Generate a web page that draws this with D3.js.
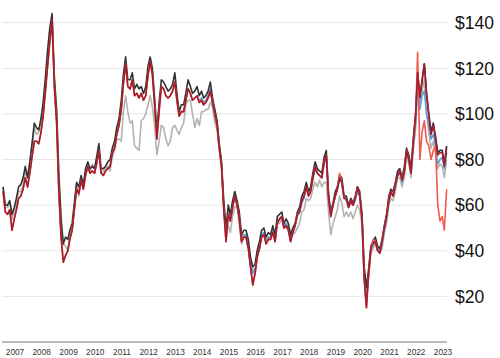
<!DOCTYPE html>
<html>
<head>
<meta charset="utf-8">
<script src="https://cdn.jsdelivr.net/npm/d3@7"></script>
<style>
  body { margin: 0; background: #fff; }
  svg { display: block; font-family: "Liberation Sans", Arial, Helvetica, sans-serif; }
</style>
</head>
<body>
<div id="chart"></div>
<script>
// Monthly prices (mid-month points), $ per barrel
const mainStart = "2006-09";
const blueStart = "2014-01";

const blackValues = [
  68, 60, 60, 62,
  56, 59, 63, 68, 69, 72, 77, 72, 79, 87, 96, 94,
  93, 98, 105, 116, 128, 138, 144, 116, 101, 73, 53, 43,
  46, 45, 49, 52, 61, 70, 68, 73, 69, 76, 79, 76,
  77, 76, 81, 87, 76, 76, 77, 79, 80, 85, 88, 94,
  98, 106, 117, 125, 115, 115, 118, 111, 113, 111, 112, 109,
  112, 121, 125, 120, 107, 92, 105, 115, 114, 112, 110, 111,
  113, 118, 109, 101, 104, 104, 109, 115, 112, 109, 110, 112,
  108, 110, 107, 108, 110, 114, 107, 102, 97, 87, 79, 62,
  50, 60, 56, 62, 66, 62, 57, 47, 49, 49, 45, 37,
  33, 34, 40, 44, 49, 50, 46, 48, 47, 51, 47, 55,
  56, 57, 52, 54, 52, 47, 50, 52, 57, 59, 64, 66,
  70, 66, 68, 74, 79, 76, 75, 74, 81, 84, 65, 57,
  61, 66, 68, 73, 72, 64, 64, 60, 63, 61, 64, 68,
  66, 56, 33, 24, 32, 42, 44, 46, 42, 41, 45, 51,
  56, 64, 67, 66, 70, 75, 76, 72, 77, 85, 82, 76,
  89, 100, 118, 107, 115, 122, 109, 100, 92, 96, 90, 83,
  84, 84, 78, 86
];

const redValues = [
  66, 57, 56, 58,
  49, 54, 58, 63, 64, 67, 72, 68, 74, 81, 88, 88,
  87, 92, 99, 110, 121, 132, 141, 112, 96, 66, 46, 35,
  38, 40, 45, 49, 58, 67, 65, 71, 67, 73, 77, 74,
  75, 74, 78, 84, 74, 73, 75, 76, 77, 83, 85, 91,
  95, 102, 113, 122, 112, 111, 115, 108, 109, 107, 109, 106,
  108, 117, 123, 117, 104, 89, 101, 112, 111, 108, 107, 108,
  110, 114, 106, 99, 101, 101, 106, 111, 109, 106, 107, 108,
  105, 106, 104, 105, 107, 110, 105, 100, 95, 85, 77, 58,
  44, 56, 53, 59, 64, 60, 54, 44, 46, 46, 41, 33,
  25, 30, 37, 41, 46, 47, 43, 45, 45, 48, 44, 52,
  54, 55, 50, 51, 49, 44, 48, 51, 56, 57, 62, 64,
  68, 64, 66, 72, 77, 74, 73, 72, 79, 82, 63, 55,
  60, 64, 67, 72, 70, 63, 63, 59, 62, 60, 63, 68,
  64, 54, 28, 15, 30, 41, 43, 44, 40, 39, 44, 50,
  55, 62, 66, 64, 69, 73, 75, 71, 75, 84, 80, 74,
  88, 99, 118, 108, 114, 122, 109, 99, 91, 95, 89, 82,
  83, 83, 77, 85
];

const grayValues = [
  68, 59, 59, 61,
  54, 58, 61, 66, 66, 69, 75, 72, 78, 85, 94, 91,
  92, 97, 104, 114, 126, 137, 140, 116, 103, 75, 56, 43,
  42, 40, 48, 50, 59, 69, 64, 71, 69, 75, 78, 74,
  78, 76, 81, 84, 74, 75, 76, 77, 75, 81, 84, 89,
  89, 88, 101, 108, 101, 96, 97, 86, 85, 84, 97, 98,
  100, 104, 108, 103, 95, 82, 88, 95, 94, 89, 86, 88,
  94, 95, 93, 91, 94, 96, 104, 106, 106, 100, 94, 98,
  95, 101, 101, 102, 102, 105, 103, 96, 93, 84, 76, 59,
  47, 51, 48, 55, 59, 60, 51, 43, 46, 46, 42, 37,
  32, 31, 38, 41, 47, 48, 45, 45, 45, 49, 46, 52,
  52, 54, 50, 51, 49, 45, 47, 48, 50, 52, 57, 58,
  63, 62, 63, 67, 70, 68, 71, 68, 70, 70, 57, 47,
  52, 55, 58, 64, 61, 55, 57, 55, 57, 54, 57, 60,
  58, 51, 30, 19, 29, 39, 41, 43, 40, 39, 41, 48,
  52, 60, 63, 62, 66, 72, 72, 68, 72, 82, 78, 72,
  84, 93, 110, 103, 110, 115, 100, 92, 85, 88, 83, 76,
  78, 77, 72, 80
];

const coralValues = [
  66, 57, 56, 58,
  49, 54, 58, 63, 64, 67, 72, 68, 74, 81, 88, 88,
  87, 92, 99, 110, 121, 132, 141, 112, 96, 66, 46, 35,
  38, 40, 45, 49, 58, 67, 65, 71, 67, 73, 77, 74,
  75, 74, 78, 84, 74, 73, 75, 76, 77, 83, 85, 91,
  95, 102, 113, 122, 112, 111, 115, 108, 109, 107, 109, 106,
  108, 117, 123, 117, 104, 89, 101, 112, 111, 108, 107, 108,
  110, 114, 106, 99, 101, 101, 106, 111, 109, 106, 107, 108,
  105, 106, 104, 105, 107, 110, 105, 100, 95, 85, 77, 58,
  44, 56, 53, 59, 64, 60, 54, 44, 46, 46, 41, 33,
  25, 30, 37, 41, 46, 47, 43, 45, 45, 48, 44, 52,
  54, 55, 50, 51, 49, 44, 48, 51, 56, 57, 62, 64,
  68, 64, 66, 72, 77, 74, 73, 72, 79, 82, 63, 55,
  60, 64, 67, 74, 70, 63, 63, 59, 62, 60, 63, 68,
  64, 54, 28, 15, 30, 41, 45, 44, 40, 39, 44, 50,
  55, 62, 66, 64, 69, 73, 75, 71, 75, 84, 80, 74,
  88, 97, 127, 80, 92, 97, 88, 86, 80, 84, 86, 60,
  53, 55, 49, 67
];

const blueValues = [
  106, 107, 105, 106, 108, 111, 105, 100, 95, 86, 77, 60,
  47, 57, 54, 59, 64, 61, 55, 46, 47, 47, 43, 35,
  30, 32, 38, 42, 47, 48, 44, 46, 46, 49, 45, 53,
  54, 55, 51, 52, 50, 46, 48, 51, 55, 57, 61, 63,
  68, 64, 66, 71, 76, 74, 73, 72, 78, 81, 64, 56,
  60, 64, 67, 71, 70, 63, 62, 59, 61, 60, 62, 66,
  64, 54, 31, 20, 29, 40, 43, 44, 41, 40, 43, 49,
  54, 62, 65, 64, 68, 73, 74, 70, 74, 83, 80, 74,
  86, 96, 112, 102, 108, 110, 100, 95, 89, 91, 86, 78,
  80, 81, 76, 83
];

const yTicks = [20, 40, 60, 80, 100, 120, 140];
const yearLabels = [2007, 2008, 2009, 2010, 2011, 2012, 2013, 2014, 2015,
  2016, 2017, 2018, 2019, 2020, 2021, 2022, 2023];

// Turn a start month + values into dated points (mid-month)
function toPoints(start, values) {
  const t0 = d3.timeParse("%Y-%m")(start);
  return values.map((v, i) => {
    const d = d3.timeMonth.offset(t0, i);
    return {date: new Date(d.getFullYear(), d.getMonth(), 15), value: v};
  });
}

const series = [
  {name: "gray",  color: "#b3b3b3", points: toPoints(mainStart, grayValues)},
  {name: "blue",  color: "#5b9fd9", points: toPoints(blueStart, blueValues)},
  {name: "black", color: "#333333", points: toPoints(mainStart, blackValues)},
  {name: "coral", color: "#f2594f", points: toPoints(mainStart, coralValues)},
  {name: "red",   color: "#a31d2d", points: toPoints(mainStart, redValues)}
];

const width = 500, height = 358;
const plotLeft = 2, plotRight = 447, baseY = 342;

const svg = d3.select("#chart")
  .append("svg")
  .attr("width", width)
  .attr("height", height);

// x: one year is about 26.75px, Jan 1 2007 sits at x=11
const x = d3.scaleTime()
  .domain([new Date(2007, 0, 1), new Date(2023, 0, 1)])
  .range([11, 439]);

const y = d3.scaleLinear()
  .domain([0, 140])
  .range([baseY, 22.7]);

// Gridlines
svg.append("g")
  .selectAll("line")
  .data(yTicks)
  .enter().append("line")
  .attr("x1", plotLeft)
  .attr("x2", plotRight)
  .attr("y1", d => y(d))
  .attr("y2", d => y(d))
  .attr("stroke", "#e6e6e6")
  .attr("stroke-width", 1);

// Y labels on the right
svg.append("g")
  .selectAll("text")
  .data(yTicks)
  .enter().append("text")
  .attr("x", 455)
  .attr("y", d => y(d))
  .attr("dy", "0.36em")
  .style("font-size", "17.5px")
  .style("fill", "#111")
  .text(d => "$" + d);

// Lines
const line = d3.line()
  .x(d => x(d.date))
  .y(d => y(d.value));

series.forEach(s => {
  svg.append("path")
    .datum(s.points)
    .attr("d", line)
    .attr("fill", "none")
    .attr("stroke", s.color)
    .attr("stroke-width", 1.6)
    .attr("stroke-linejoin", "round");
});

// Baseline
svg.append("line")
  .attr("x1", plotLeft)
  .attr("x2", plotRight)
  .attr("y1", baseY)
  .attr("y2", baseY)
  .attr("stroke", "#7a7a7a")
  .attr("stroke-width", 1);

// Year labels
svg.append("g")
  .selectAll("text")
  .data(yearLabels)
  .enter().append("text")
  .attr("x", d => x(new Date(d, 0, 1)) + 4)
  .attr("y", 355)
  .attr("text-anchor", "middle")
  .style("font-size", "8.3px")
  .style("fill", "#333")
  .text(d => d);
</script>
</body>
</html>
